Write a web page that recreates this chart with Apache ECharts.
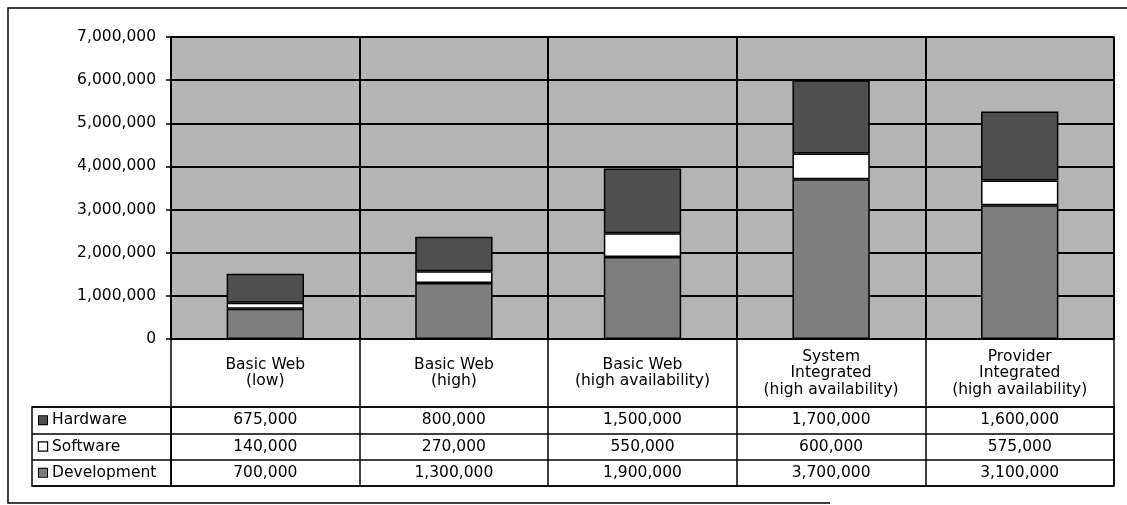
<!DOCTYPE html>
<html>
<head>
<meta charset="utf-8">
<script src="https://cdn.jsdelivr.net/npm/echarts@6/dist/echarts.min.js"></script>
<style>
html,body{margin:0;padding:0;background:#fff;}
#c{width:1127px;height:505px;}
</style>
</head>
<body>
<div id="c"></div>
<script>
const categories = ['Basic Web\n(low)', 'Basic Web\n(high)', 'Basic Web\n(high availability)', 'System\nIntegrated\n(high availability)', 'Provider\nIntegrated\n(high availability)'];
const seriesNames = ['Hardware', 'Software', 'Development'];
const hardware = [675000, 800000, 1500000, 1700000, 1600000];
const software = [140000, 270000, 550000, 600000, 575000];
const development = [700000, 1300000, 1900000, 3700000, 3100000];
const yMin = 0, yMax = 7000000, yStep = 1000000;

const colors = { Hardware: '#4f4f4f', Software: '#ffffff', Development: '#7e7e7e' };
const FONT = 'DejaVu Sans';
const fmt = v => Math.round(v).toLocaleString('en-US');

const rowValues = [hardware, software, development];
const tableCells = [];
rowValues.forEach((arr, r) => arr.forEach((v, c) => tableCells.push([c, r, v])));

const chart = echarts.init(document.getElementById('c'), null, { renderer: 'canvas' });

const option = {
  animation: false,
  backgroundColor: '#ffffff',
  textStyle: { fontFamily: FONT },
  graphic: [
    { type: 'polyline', shape: { points: [[830, 503], [8, 503], [8, 8], [1140, 8]] }, style: { fill: 'none', stroke: '#000', lineWidth: 1.5 }, z: 0, silent: true }
  ],
  grid: [
    { left: 171, top: 37, width: 943, height: 302, show: true, backgroundColor: '#b4b4b4', borderColor: '#000', borderWidth: 1.5 },
    { left: 171, top: 407, width: 943, height: 79, show: true, backgroundColor: '#fff', borderColor: '#000', borderWidth: 1.5 },
    { left: 32, top: 407, width: 139, height: 79, show: true, backgroundColor: '#fff', borderColor: '#000', borderWidth: 1.5 }
  ],
  xAxis: [
    {
      gridIndex: 0, type: 'category', data: categories,
      axisLine: { show: true, lineStyle: { color: '#000', width: 1.5 } },
      axisTick: { show: true, length: 68, lineStyle: { color: '#000', width: 1.5 } },
      axisLabel: { show: true, interval: 0, margin: 34, verticalAlign: 'middle', lineHeight: 16.5, fontSize: 15.5, color: '#000', fontFamily: FONT },
      splitLine: { show: true, lineStyle: { color: '#000', width: 2 } }
    },
    {
      gridIndex: 1, type: 'category', data: categories,
      axisLine: { show: false }, axisTick: { show: false }, axisLabel: { show: false },
      splitLine: { show: true, lineStyle: { color: '#000', width: 1.5 } }
    },
    {
      gridIndex: 2, type: 'category', data: ['label'],
      axisLine: { show: false }, axisTick: { show: false }, axisLabel: { show: false }, splitLine: { show: false }
    }
  ],
  yAxis: [
    {
      gridIndex: 0, type: 'value', min: yMin, max: yMax, interval: yStep,
      axisLine: { show: true, lineStyle: { color: '#000', width: 1.5 } },
      axisTick: { show: true, length: 5, lineStyle: { color: '#000', width: 1.5 } },
      axisLabel: { margin: 15, fontSize: 15.5, color: '#000', fontFamily: FONT, formatter: v => fmt(v) },
      splitLine: { show: true, lineStyle: { color: '#000', width: 2 } }
    },
    {
      gridIndex: 1, type: 'category', data: seriesNames, inverse: true,
      axisLine: { show: false }, axisTick: { show: false }, axisLabel: { show: false },
      splitLine: { show: true, lineStyle: { color: '#000', width: 1.5 } }
    },
    {
      gridIndex: 2, type: 'category', data: seriesNames, inverse: true,
      axisLine: { show: false }, axisTick: { show: false },
      axisLabel: {
        show: true, inside: true, margin: 7, align: 'left',
        formatter: (name) => '{' + name + '|}{t|' + name + '}',
        rich: {
          Hardware: { width: 8, height: 8, backgroundColor: colors.Hardware, borderColor: '#000', borderWidth: 1 },
          Software: { width: 8, height: 8, backgroundColor: colors.Software, borderColor: '#000', borderWidth: 1.2 },
          Development: { width: 8, height: 8, backgroundColor: colors.Development, borderColor: '#000', borderWidth: 1 },
          t: { fontSize: 15.5, color: '#000', fontFamily: FONT, padding: [0, 0, 0, 5] }
        }
      },
      splitLine: { show: true, lineStyle: { color: '#000', width: 1.5 } }
    }
  ],
  series: [
    {
      name: 'Development', type: 'bar', stack: 'total', xAxisIndex: 0, yAxisIndex: 0,
      data: development, barWidth: '41%',
      itemStyle: { color: colors.Development, borderColor: '#000', borderWidth: 1.5 }, z: 3
    },
    {
      name: 'Software', type: 'bar', stack: 'total', xAxisIndex: 0, yAxisIndex: 0,
      data: software, barWidth: '41%',
      itemStyle: { color: colors.Software, borderColor: '#000', borderWidth: 1.5 }, z: 3
    },
    {
      name: 'Hardware', type: 'bar', stack: 'total', xAxisIndex: 0, yAxisIndex: 0,
      data: hardware, barWidth: '41%',
      itemStyle: { color: colors.Hardware, borderColor: '#000', borderWidth: 1.5 }, z: 3
    },
    {
      name: 'table', type: 'scatter', xAxisIndex: 1, yAxisIndex: 1,
      data: tableCells, symbolSize: 1, itemStyle: { color: 'rgba(0,0,0,0)', opacity: 1 },
      label: { show: true, position: 'inside', formatter: p => fmt(p.value[2]), fontSize: 15.5, color: '#000', opacity: 1, textBorderWidth: 0, fontFamily: FONT },
      silent: true
    }
  ]
};
chart.setOption(option);
</script>
</body>
</html>
